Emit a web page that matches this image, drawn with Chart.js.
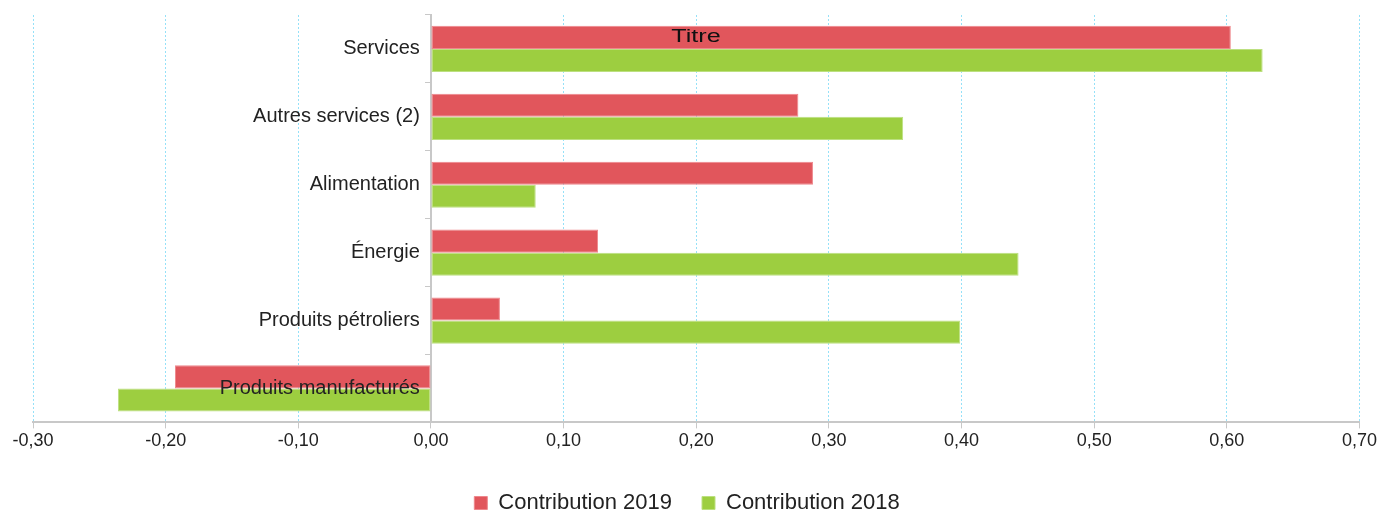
<!DOCTYPE html>
<html>
<head>
<meta charset="utf-8">
<script src="https://cdn.jsdelivr.net/npm/chart.js@4.4.0/dist/chart.umd.min.js"></script>
<style>
  html, body { margin: 0; padding: 0; background: #fff; }
  #wrap { width: 1379px; height: 510px; }
</style>
</head>
<body>
<div id="wrap"><canvas id="myChart" width="1379" height="510"></canvas></div>
<script>
const categories = ['Services', 'Autres services (2)', 'Alimentation', 'Énergie', 'Produits pétroliers', 'Produits manufacturés'];
const contrib2019 = [0.603, 0.277, 0.288, 0.126, 0.052, -0.193];
const contrib2018 = [0.627, 0.356, 0.079, 0.443, 0.399, -0.236];
const chartTitle = 'Titre';

const police = '"Liberation Sans", Arial, sans-serif';

// le titre est dessiné par-dessus les barres, comme dans l'original
const titrePlugin = {
  id: 'titre',
  afterLayout(chart) {
    // légende un peu décalée vers la gauche
    chart.legend.left -= 38;
  },
  afterDraw(chart) {
    const ctx = chart.ctx;
    ctx.save();
    ctx.font = '18px ' + police;
    ctx.fillStyle = '#111';
    ctx.textAlign = 'center';
    ctx.textBaseline = 'middle';
    ctx.translate(696, 37);
    ctx.scale(1.4, 1);
    ctx.fillText(chartTitle, 0, 0);
    ctx.restore();
  }
};

const ctx = document.getElementById('myChart');
const myChart = new Chart(ctx, {
  type: 'bar',
  data: {
    labels: categories,
    datasets: [{
      label: 'Contribution 2019',
      data: contrib2019,
      backgroundColor: 'rgb(225, 86, 92)',
      borderColor: 'rgb(238, 135, 140)',
      borderWidth: 1,
      borderSkipped: false,
      barPercentage: 1,
      categoryPercentage: 0.68
    }, {
      label: 'Contribution 2018',
      data: contrib2018,
      backgroundColor: 'rgb(157, 206, 64)',
      borderColor: 'rgb(188, 224, 128)',
      borderWidth: 1,
      borderSkipped: false,
      barPercentage: 1,
      categoryPercentage: 0.68
    }]
  },
  options: {
    indexAxis: 'y',
    responsive: false,
    animation: false,
    layout: { padding: { top: 15, left: 33, right: 0, bottom: -14 } },
    scales: {
      x: {
        min: -0.3,
        max: 0.7,
        afterFit: function (scale) { scale.height += 8; },
        ticks: {
          stepSize: 0.1,
          color: '#222',
          font: { size: 18, family: police },
          padding: 2,
          callback: function (v) { return Number(v).toFixed(2).replace('.', ','); }
        },
        grid: {
          color: 'rgb(150, 225, 248)',
          tickColor: '#c8c8c8',
          tickLength: 6
        },
        border: { color: '#c8c8c8', width: 2, dash: [2, 2] }
      },
      y: {
        position: { x: 0 },
        ticks: {
          z: 1,
          color: '#222',
          font: { size: 20, family: police },
          // un peu d'espace entre le libellé et l'axe
          callback: function (v) { return categories[v] + '  '; }
        },
        grid: {
          drawOnChartArea: false,
          tickColor: '#c8c8c8',
          tickLength: 5
        },
        border: { color: '#c8c8c8', width: 2 }
      }
    },
    plugins: {
      legend: {
        position: 'bottom',
        labels: {
          boxWidth: 13,
          boxHeight: 13,
          color: '#222',
          padding: 30,
          font: { size: 22, family: police }
        }
      },
      title: { display: false },
      tooltip: { enabled: false }
    }
  },
  plugins: [titrePlugin]
});
</script>
</body>
</html>
